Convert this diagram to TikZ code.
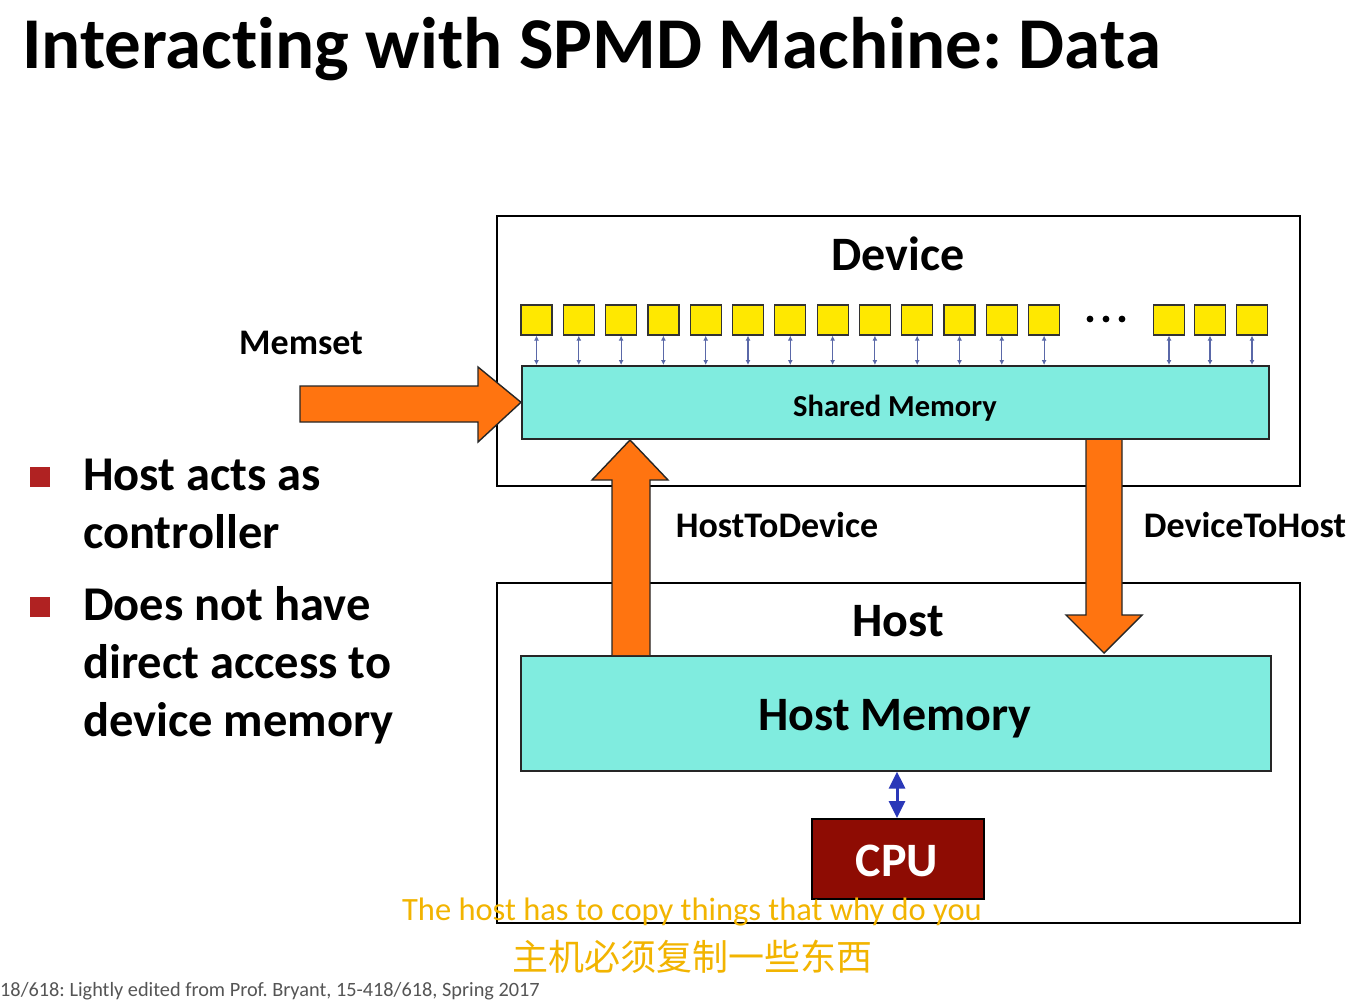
\documentclass[tikz,border=0pt]{standalone}
\usepackage{fontspec}
\setmainfont{Carlito}[Ligatures=NoCommon]
\newfontfamily\cjkfont{Noto Sans CJK SC}
\usetikzlibrary{arrows.meta}
\frenchspacing
\definecolor{chipyellow}{HTML}{FFE800}
\definecolor{memcyan}{HTML}{80ECDF}
\definecolor{xferorange}{HTML}{FF7410}
\definecolor{cpured}{HTML}{8E0C03}
\definecolor{busblue}{HTML}{5A68A8}
\definecolor{cpublue}{HTML}{2A38B8}
\definecolor{bulletred}{HTML}{B02222}
\definecolor{captionyellow}{HTML}{F2B400}
\definecolor{footgray}{HTML}{555555}
\tikzset{
  fs/.style={font=\fontsize{#1}{#1}\selectfont\bfseries},
  panel/.style={draw=black, line width=2.2pt},
  membox/.style={draw=black!85, line width=1.6pt, fill=memcyan},
  chip/.style={draw=black!80, line width=1.2pt, fill=chipyellow, minimum width=31pt, minimum height=30pt, inner sep=0pt},
  bus/.style={busblue, line width=1.1pt, {Latex[length=5pt,width=5pt]}-{Latex[length=5pt,width=5pt]}},
  blockarrow/.style={fill=xferorange, draw=black!85, line width=1.4pt, line join=miter},
  label/.style={fs=36, anchor=base},
  bullet/.style={fill=bulletred, minimum size=20pt, inner sep=0pt},
  bullettext/.style={fs=48.5, anchor=base west, inner sep=0pt},
}
\begin{document}
\begin{tikzpicture}[x=1pt,y=-1pt]
\useasboundingbox[fill=white] (0,0) rectangle (1368,999);

% title
\node[fs=73, anchor=base west, inner sep=0pt] (title) at (22,68) {Interacting with SPMD Machine: Data};

% device and host panels
\node[panel, minimum width=803pt, minimum height=270pt, anchor=north west, inner sep=0pt] (device) at (496,215) {};
\node[panel, minimum width=803pt, minimum height=340pt, anchor=north west, inner sep=0pt] (host) at (496,582) {};
\node[fs=48, anchor=base] (devlabel) at (898,270) {Device};
\node[fs=48, anchor=base] (hostlabel) at (898,636) {Host};

% shared memory and processing elements
\node[membox, minimum width=747pt, minimum height=73pt, anchor=north west, inner sep=0pt] (shared) at (521,365) {};
\node[fs=30.5, anchor=base] (sharedtxt) at (895,416) {Shared Memory};
\foreach \i in {0,...,12} {
  \node[chip] (pe\i) at (536.5+42.3*\i,320) {};
  \draw[bus] (pe\i.south) -- (pe\i.south |- shared.north);
}
\foreach \i/\x in {13/1169,14/1210,15/1252} {
  \node[chip] (pe\i) at (\x,320) {};
  \draw[bus] (pe\i.south) -- (pe\i.south |- shared.north);
}
\foreach \x [count=\k] in {1090,1106,1122}
  \fill (\x,319) circle[radius=3.4pt] coordinate (dot\k);

% host memory and cpu
\node[membox, minimum width=750pt, minimum height=115pt, anchor=north west, inner sep=0pt] (hostmem) at (520,655) {};
\node[fs=48, anchor=base] (hostmemtxt) at (895,730) {Host Memory};
\node[draw=black, line width=1.6pt, fill=cpured, minimum width=172pt, minimum height=80pt, anchor=north west, inner sep=0pt] (cpu) at (811,818) {};
\node[fs=48, anchor=base, text=white] (cputxt) at (897,876) {CPU};
\draw[cpublue, line width=3pt, {Triangle[length=17pt,width=16pt]}-{Triangle[length=17pt,width=16pt]}] (hostmem.south -| cputxt) -- (cpu.north -| cputxt);

% memset arrow into shared memory
\coordinate (mstail) at (300,404);
\draw[blockarrow] (mstail) ++(0,-18) -- (478,386) -- (478,367) -- (shared.west) -- (478,442) -- (478,422) -- (300,422) -- cycle;
\node[fs=36, anchor=base] (memset) at (301,354) {Memset};

% host to device arrow
\draw[blockarrow] (612,655) -- (612,480) -- (592,480) -- (630,440) -- (668,480) -- (650,480) -- (650,655);
\node[label] (h2d) at (777,537) {HostToDevice};

% device to host arrow
\draw[blockarrow] (1086,440) -- (1086,615) -- (1066,615) -- (1104,653) -- (1142,615) -- (1122,615) -- (1122,440);
\node[label] (d2h) at (1245,537) {DeviceToHost};

% bullet list
\node[bullet] (b1) at (40,477) {};
\node[bullet] (b2) at (40,607) {};
\node[bullettext] (t1) at (83,490) {Host acts as};
\node[bullettext] (t2) at (83,548) {controller};
\node[bullettext] (t3) at (83,620) {Does not have};
\node[bullettext] (t4) at (83,678) {direct access to};
\node[bullettext] (t5) at (83,736) {device memory};

% captions
\node[font=\fontsize{32.5}{32.5}\selectfont, text=captionyellow, anchor=base] (capen) at (692,920) {The host has to copy things that why do you};
\node[font=\fontsize{36}{36}\selectfont\cjkfont, text=captionyellow, anchor=base] (capzh) at (692,970) {主机必须复制一些东西};

% footer
\node[font=\fontsize{20.3}{20.3}\selectfont, text=footgray, anchor=base west, inner sep=0pt] (foot) at (0,996) {18/618: Lightly edited from Prof. Bryant, 15-418/618, Spring 2017};
\end{tikzpicture}
\end{document}
